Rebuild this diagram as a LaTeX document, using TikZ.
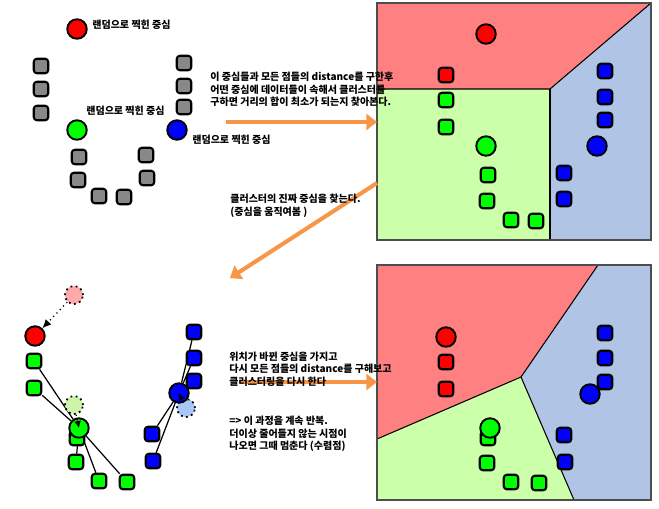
\documentclass[tikz,border=0pt]{standalone}
\usepackage{fontspec}
\setmainfont{Noto Sans CJK KR}
\usetikzlibrary{arrows.meta, positioning, backgrounds}
\definecolor{redzone}{HTML}{FF8080}
\definecolor{greenzone}{HTML}{CCFFAA}
\definecolor{bluezone}{HTML}{B0C4E6}
\definecolor{ptgrey}{HTML}{888888}
\definecolor{ptred}{HTML}{FF0000}
\definecolor{ptgreen}{HTML}{00FF00}
\definecolor{ptblue}{HTML}{0000FF}
\definecolor{oldred}{HTML}{FFAAAA}
\definecolor{oldgreen}{HTML}{CCF5AA}
\definecolor{oldblue}{HTML}{AAC8F5}
\definecolor{flow}{HTML}{F79646}
\definecolor{frame}{HTML}{4D4D4D}

\tikzset{
  pt/.style={draw=black, line width=1.2pt, rounded corners=1.8pt, minimum size=0.29cm, inner sep=0pt},
  ctr/.style={circle, draw=black, line width=1.1pt, minimum size=0.39cm, inner sep=0pt},
  oldctr/.style={circle, draw=black, dotted, line width=1pt, minimum size=0.36cm, inner sep=0pt},
  note/.style={anchor=west, align=left, inner sep=0pt, font=\fontsize{5.7}{7.1}\selectfont\bfseries},
  flowarrow/.style={draw=flow, line width=2.3pt, -{Triangle[length=6pt,width=9pt]}},
  zoneline/.style={line width=0.6pt},
}

\begin{document}
\begin{tikzpicture}[x=0.02cm, y=-0.02cm]
  \useasboundingbox (0,0) rectangle (659,508);

  % Step 1: random centers among the points
  \foreach \x/\y [count=\i] in {41/66, 41/89, 41/113, 184/63, 184/86, 184/107,
      79/157, 78/180, 99/196, 124/197, 146/155, 147/178}
    \node[pt, fill=ptgrey] (q\i) at (\x,\y) {};
  \node[ctr, fill=ptred] (rc1) at (77,29) {};
  \node[ctr, fill=ptgreen] (gc1) at (77,130) {};
  \node[ctr, fill=ptblue] (bc1) at (177,130) {};
  \node[note, anchor=west] (rl1) at (92,25) {랜덤으로 찍힌 중심};
  \node[note, anchor=west] (gl1) at (86,110.5) {랜덤으로 찍힌 중심};
  \node[note, anchor=west] (bl1) at (192,139.5) {랜덤으로 찍힌 중심};

  % Step 1 result: clusters
  \fill[redzone] (377,3) -- (651,3) -- (550,89) -- (377,89) -- cycle;
  \fill[greenzone] (377,89) -- (550,89) -- (550,240) -- (377,240) -- cycle;
  \fill[bluezone] (550,89) -- (651,3) -- (651,240) -- (550,240) -- cycle;
  \draw[zoneline] (377,89) -- (550,89) -- (651,3);
  \draw[zoneline] (550,89) -- (550,240);
  \draw[frame, line width=1pt] (377,3) rectangle (651,240);
  \node[pt, fill=ptred] (r1) at (446,75) {};
  \foreach \x/\y [count=\i] in {446/100, 446/127, 488/175, 487/201, 511/220, 536/221}
    \node[pt, fill=ptgreen] (g\i) at (\x,\y) {};
  \foreach \x/\y [count=\i] in {605/71, 605/97, 605/120, 564/173, 564/199}
    \node[pt, fill=ptblue] (b\i) at (\x,\y) {};
  \node[ctr, fill=ptred] (rc2) at (486,34) {};
  \node[ctr, fill=ptgreen] (gc2) at (486,146) {};
  \node[ctr, fill=ptblue] (bc2) at (597,146) {};

  % Step 2: move the centers
  \foreach \x/\y [count=\i] in {34/361, 34/388, 76/462, 99/481, 127/482}
    \node[pt, fill=ptgreen] (mg\i) at (\x,\y) {};
  \node[pt, fill=ptgreen] (mg0) at (77,438) {};
  \foreach \x/\y [count=\i] in {194/332, 194/358, 194/381, 152/434, 153/461}
    \node[pt, fill=ptblue] (mb\i) at (\x,\y) {};
  \node[oldctr, fill=oldred] (ro) at (74,295) {};
  \node[oldctr, fill=oldgreen] (go) at (74,405) {};
  \node[oldctr, fill=oldblue] (bo) at (186,408) {};
  \node[ctr, fill=ptred] (rc3) at (35,336) {};
  \node[ctr, fill=ptgreen] (gc3) at (79,428) {};
  \node[ctr, fill=ptblue] (bc3) at (179,393) {};
  \begin{scope}[on background layer]
    \foreach \i in {1,...,5} {
      \draw[line width=0.7pt] (gc3) -- (mg\i);
      \draw[line width=0.7pt] (bc3) -- (mb\i);
    }
  \end{scope}
  \draw[dotted, line width=0.7pt, -{Latex[length=5pt,width=4.5pt]}] (ro) -- (rc3);
  \draw[dotted, line width=0.7pt, -{Latex[length=4pt,width=4pt]}] (go) -- (gc3.center);
  \draw[dotted, line width=0.7pt, -{Latex[length=4pt,width=4pt]}] (bo) -- (bc3.center);

  % Step 2 result: new clusters
  \fill[redzone] (377,265) -- (598,265) -- (521,377) -- (377,439) -- cycle;
  \fill[bluezone] (598,265) -- (651,265) -- (651,500) -- (574,500) -- (521,377) -- cycle;
  \fill[greenzone] (377,439) -- (521,377) -- (574,500) -- (377,500) -- cycle;
  \draw[zoneline] (377,439) -- (521,377) -- (598,265);
  \draw[zoneline] (521,377) -- (574,500);
  \draw[frame, line width=1pt] (377,265) rectangle (651,500);
  \foreach \x/\y [count=\i] in {446/362, 446/389}
    \node[pt, fill=ptred] (nr\i) at (\x,\y) {};
  \foreach \x/\y [count=\i] in {488/438, 487/463, 511/482, 539/483}
    \node[pt, fill=ptgreen] (ng\i) at (\x,\y) {};
  \foreach \x/\y [count=\i] in {605/333, 605/358, 605/382, 564/435, 565/462}
    \node[pt, fill=ptblue] (nb\i) at (\x,\y) {};
  \node[ctr, fill=ptred] (rc4) at (446,337) {};
  \node[ctr, fill=ptgreen] (gc4) at (490,428) {};
  \node[ctr, fill=ptblue] (bc4) at (590,394) {};

  % Flow arrows
  \coordinate (a1s) at (226,122);
  \coordinate (a1e) at (377,122);
  \coordinate (a2s) at (377,183);
  \coordinate (a2e) at (230,278);
  \coordinate (a3s) at (240,382);
  \coordinate (a3e) at (377,382);
  \draw[flowarrow] (a1s) -- (a1e);
  \draw[flowarrow] (a2s) -- (a2e);
  \draw[flowarrow] (a3s) -- (a3e);

  % Notes
  \node[note] (n1) at (210,89.5) {이 중심들과 모든 점들의 distance를 구한후\\어떤 중심에 데이터들이 속해서 클러스터를\\구하면 거리의 합이 최소가 되는지 찾아본다.};
  \node[note] (n2) at (230,206) {클러스터의 진짜 중심을 찾는다.\\(중심을 움직여봄 )};
  \node[note] (n3) at (229,369) {위치가 바뀐 중심을 가지고\\다시 모든 점들의 distance를 구해보고\\클러스터링을 다시 한다};
  \node[note] (n4) at (229,434) {=> 이 과정을 계속 반복.\\더이상 줄어들지 않는 시점이\\나오면 그때 멈춘다 (수렴점)};
\end{tikzpicture}
\end{document}
